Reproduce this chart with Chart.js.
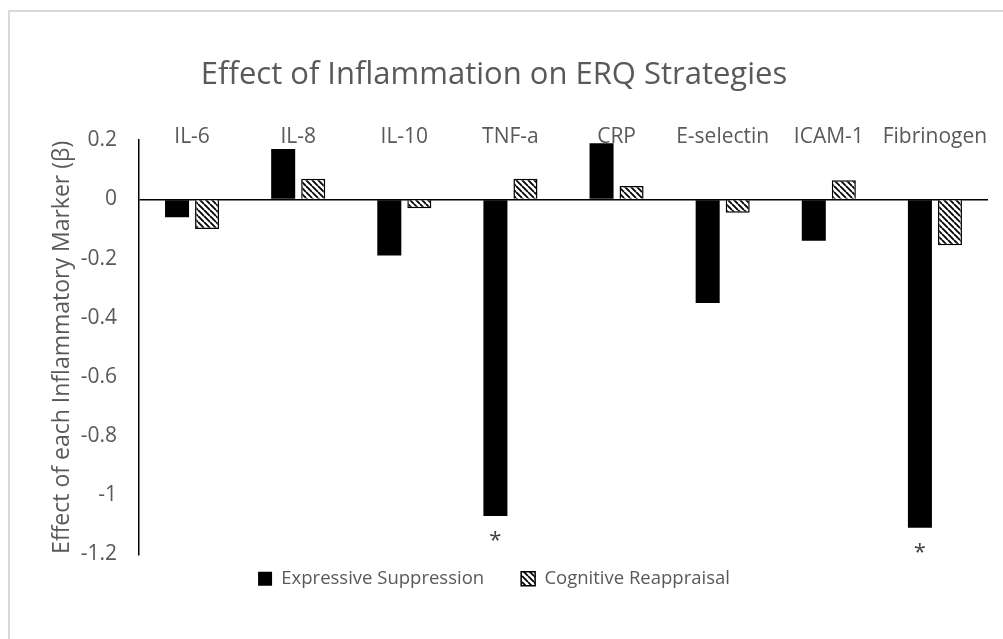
<!DOCTYPE html>
<html>
<head>
<meta charset="utf-8">
<script src="https://cdn.jsdelivr.net/npm/chart.js@4/dist/chart.umd.min.js"></script>
<style>
  body { margin: 0; background: #fff; }
  #wrap { position: relative; width: 1003px; height: 639px; overflow: hidden; }
  #frame { position: absolute; left: 8px; top: 10px; width: 1100px; height: 800px;
           border-top: 2px solid #d9d9d9; border-left: 2px solid #d9d9d9; pointer-events: none; }
</style>
</head>
<body>
<div id="wrap">
  <canvas id="myChart" width="1003" height="639"></canvas>
  <div id="frame"></div>
</div>
<script>
// data
var categories = ['IL-6', 'IL-8', 'IL-10', 'TNF-a', 'CRP', 'E-selectin', 'ICAM-1', 'Fibrinogen'];
var suppression = [-0.06, 0.17, -0.19, -1.07, 0.19, -0.35, -0.14, -1.11];
var reappraisal = [-0.10, 0.07, -0.03, 0.07, 0.045, -0.045, 0.065, -0.155];
var significant = [false, false, false, true, false, false, false, true];
var yTicks = [0.2, 0, -0.2, -0.4, -0.6, -0.8, -1, -1.2];

var FONT = '"Open Sans", Lato, sans-serif';
var GREY = '#595959';

// diagonal hatch like the excel pattern
function makeHatch() {
  var c = document.createElement('canvas');
  c.width = 6; c.height = 6;
  var g = c.getContext('2d');
  g.fillStyle = '#fff';
  g.fillRect(0, 0, 6, 6);
  g.strokeStyle = '#000';
  g.lineWidth = 1.8;
  g.beginPath();
  g.moveTo(-1, -1); g.lineTo(7, 7);
  g.moveTo(-4, 2); g.lineTo(0, 6);
  g.moveTo(2, -4); g.lineTo(6, 0);
  g.stroke();
  return g.createPattern(c, 'repeat');
}

window.onload = function() {
  var ctx = document.getElementById('myChart');
  var hatch = makeHatch();

  // asterisks under the significant bars
  var starPlugin = {
    id: 'stars',
    afterDatasetsDraw: function(chart) {
      var meta = chart.getDatasetMeta(0);
      var c = chart.ctx;
      c.save();
      c.fillStyle = '#404040';
      c.font = '22px ' + FONT;
      c.textAlign = 'center';
      c.textBaseline = 'middle';
      for (var i = 0; i < significant.length; i++) {
        if (!significant[i]) continue;
        var bar = meta.data[i];
        c.fillText('*', bar.x, bar.y + 25);
      }
      c.restore();
    }
  };

  // legend padding gives the wide gap between items, then pull it up closer to the plot
  var legendShift = {
    id: 'legendShift',
    afterLayout: function(chart) {
      var lg = chart.legend;
      lg.top -= 22;
      lg.bottom -= 22;
    }
  };

  var data = {
    labels: categories,
    datasets: [
      {
        label: 'Expressive Suppression',
        data: suppression,
        backgroundColor: '#000',
        borderColor: '#000',
        borderWidth: 0
      },
      {
        label: 'Cognitive Reappraisal',
        data: reappraisal,
        backgroundColor: hatch,
        borderColor: '#000',
        borderWidth: 1.5
      }
    ]
  };

  var options = {
    responsive: false,
    animation: false,
    categoryPercentage: 0.566,
    barPercentage: 0.8,
    layout: { padding: { left: 0, right: 15, top: 10, bottom: 19 } },
    plugins: {
      title: {
        display: true,
        text: 'Effect of Inflammation on ERQ Strategies',
        color: GREY,
        font: { family: FONT, size: 31, weight: 'normal' },
        padding: { top: 47, bottom: 0 }
      },
      legend: {
        position: 'bottom',
        labels: {
          color: GREY,
          font: { family: FONT, size: 18.5 },
          boxWidth: 14,
          boxHeight: 14,
          padding: 37
        }
      },
      tooltip: { enabled: false }
    },
    scales: {
      x: {
        position: 'top',
        grid: { display: false, drawTicks: false },
        border: { display: false },
        ticks: {
          color: GREY,
          font: { family: FONT, size: 21 },
          mirror: true,
          padding: -16,
          autoSkip: false,
          maxRotation: 0
        },
        afterFit: function(scale) { scale.height = 46; }
      },
      y: {
        min: -1.2,
        max: 0.2,
        afterBuildTicks: function(scale) {
          scale.ticks = yTicks.map(function(v) { return { value: v }; });
        },
        ticks: {
          color: GREY,
          font: { family: FONT, size: 21 },
          padding: 22,
          callback: function(v) { return String(Math.round(v * 10) / 10); }
        },
        grid: {
          drawTicks: false,
          color: function(c) { return c.tick && c.tick.value === 0 ? '#000' : 'rgba(0,0,0,0)'; },
          lineWidth: 1.5
        },
        border: { display: true, color: '#000', width: 1.5 },
        title: {
          display: true,
          text: 'Effect of each Inflammatory Marker (β)',
          color: GREY,
          font: { family: FONT, size: 23 },
          padding: { top: 49, bottom: 0 }
        },
        afterFit: function(scale) { scale.width = 139; }
      }
    }
  };

  var mychart = new Chart(ctx, {
    type: 'bar',
    data: data,
    options: options,
    plugins: [starPlugin, legendShift]
  });
};
</script>
</body>
</html>
